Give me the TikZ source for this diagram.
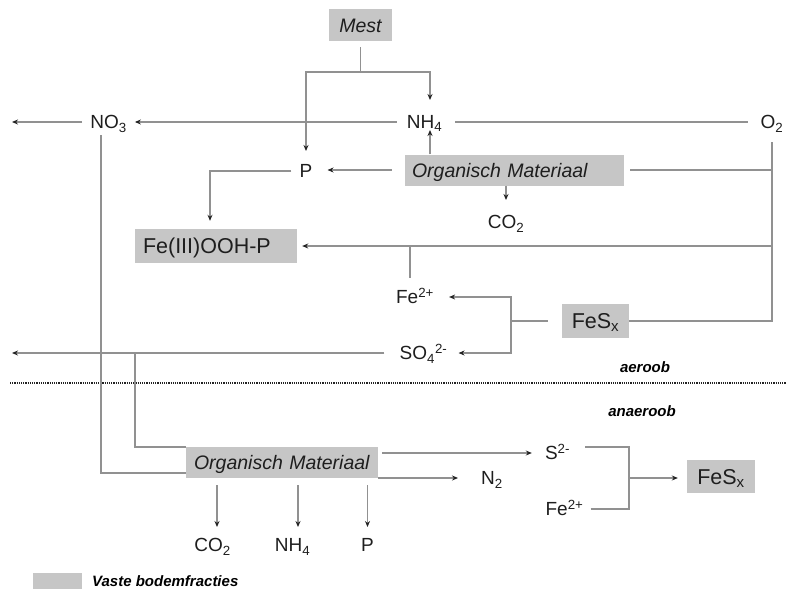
\documentclass[tikz,border=0pt]{standalone}
\usepackage{fontspec}
\setmainfont{Liberation Sans}
\usetikzlibrary{arrows.meta,calc}
\definecolor{boxgray}{RGB}{198,198,198}
\definecolor{linegray}{RGB}{145,145,145}
\definecolor{tipgray}{RGB}{35,35,35}
\definecolor{inkgray}{RGB}{30,30,30}
\begin{document}
\begin{tikzpicture}[x=1pt,y=-1pt,
  chem/.style={font=\fontsize{19}{19}\selectfont, text=inkgray, inner sep=0pt,
    text height=13.6pt, text depth=0pt},
  solid/.style={fill=boxgray, text=inkgray, inner ysep=0pt, inner xsep=0pt, text depth=0pt},
  omat/.style={solid, font=\fontsize{19.5}{19.5}\selectfont\itshape, text height=14pt,
    minimum height=31pt, align=left},
  big/.style={font=\fontsize{21.5}{21.5}\selectfont, text height=15.4pt},
  tag/.style={font=\fontsize{15}{15}\selectfont\bfseries\itshape, text=black, inner sep=0pt},
  ln/.style={draw=linegray, line width=1.7pt},
  arr/.style={ln, -{Stealth[length=6pt,width=5pt,color=tipgray]}},
  divider/.style={draw=tipgray, line width=1.6pt, dash pattern=on 1.1pt off 1.1pt},
]
\useasboundingbox (0,0) rectangle (786,589);

% ---- aerobic zone: labels and solid fractions
\node[solid, font=\fontsize{19.5}{19.5}\selectfont\itshape, text height=14pt,
  minimum width=63pt, minimum height=32pt] (mest) at (360.5,25) {Mest};
\node[chem] (nh4) at (424.5,122) {NH\textsubscript{4}};
\node[chem] (no3) at (108.5,122) {NO\textsubscript{3}};
\node[chem] (o2) at (772,122) {O\textsubscript{2}};
\node[chem] (p) at (306,171) {P};
\node[omat, text width=205pt, inner xsep=7pt] (om1) at (514.5,170) {Organisch Materiaal};
\node[chem] (co2a) at (506,222) {CO\textsubscript{2}};
\node[solid, big, minimum width=162pt, minimum height=34pt, text width=146pt,
  inner xsep=8pt, align=left] (fe3) at (216,246) {Fe(III)OOH-P};
\node[chem] (fe2a) at (415,297) {Fe\textsuperscript{2+}};
\node[chem] (so4) at (423.5,353) {SO\textsubscript{4}\textsuperscript{2-}};
\node[solid, big, minimum width=67pt, minimum height=34pt] (fesx1) at (595.5,321) {FeS\textsubscript{x}};
\node[tag] (aer) at (645,367) {aeroob};

% ---- anaerobic zone
\node[tag] (anaer) at (642,411) {anaeroob};
\node[omat, text width=176pt, inner xsep=8pt] (om2) at (282,462.5) {Organisch Materiaal};
\node[chem] (s2) at (557.5,453) {S\textsuperscript{2-}};
\node[chem] (n2) at (492,478) {N\textsubscript{2}};
\node[chem] (fe2b) at (564.5,509) {Fe\textsuperscript{2+}};
\node[solid, big, minimum width=68pt, minimum height=33pt] (fesx2) at (721,476.5) {FeS\textsubscript{x}};
\node[chem] (co2b) at (212.5,545) {CO\textsubscript{2}};
\node[chem] (nh4b) at (292.5,545) {NH\textsubscript{4}};
\node[chem] (pb) at (367.5,545) {P};

% ---- legend
\node[solid, minimum width=49pt, minimum height=16pt] (key) at (57,581) {};
\node[tag, anchor=west] (keytxt) at (92,581) {Vaste bodemfracties};

% ---- manure input
\coordinate (mj) at ($(mest.south)+(0,31)$);
\draw[ln, shorten <=6pt] (mest.south) -- (mj);
\draw[arr, shorten >=13pt] (mj) -| (p.north);
\draw[arr, shorten >=15pt] (mj) -| ($(nh4.north)+(5.5,0)$);

% ---- nitrogen
\coordinate (wedge1) at (12,122);
\draw[arr, shorten <=10pt, shorten >=8pt] (nh4.west) -- (no3.east);
\draw[arr, shorten <=8pt] (no3.west) -- (wedge1);
\draw[ln, shorten <=13pt, shorten >=12pt] (nh4.east) -- (o2.west);

% ---- oxygen supply
\draw[ln, shorten <=13pt] (o2.south) |- (fesx1.east);
\draw[ln, shorten <=6pt] (om1.east) -- (om1.east -| o2.south);
\draw[arr, shorten >=5pt] (o2.south |- fe3.east) -- (fe3.east);

% ---- organic matter (aerobic)
\draw[arr, shorten <=13pt, shorten >=15pt] (om1.west) -- (om1.west -| p.east);
\draw[arr, shorten >=1pt] ($(nh4.south |- om1.north)+(5.5,0)$) -- ($(nh4.south)+(5.5,0)$);
\draw[arr, shorten >=15pt] (om1.south -| co2a.north) -- (co2a.north);
\draw[arr, shorten <=8pt, shorten >=8pt] (p.west) -| ($(fe3.north)+(-6,0)$);

% ---- iron and sulphur (aerobic)
\draw[ln, shorten >=12pt] ($(fe2a.north |- fe3.east)+(-5,0)$) -- ($(fe2a.north)+(-5,0)$);
\coordinate (fork1) at (511,321);
\draw[ln, shorten <=14pt] (fesx1.west) -- (fork1);
\draw[arr, shorten >=15pt] (fork1) |- (fe2a.east);
\draw[arr, shorten >=11pt] (fork1) |- (so4.east);
\coordinate (wedge2) at (12,353);
\draw[arr, shorten <=15pt] (so4.west) -- (wedge2);

% ---- boundary between the zones
\coordinate (dl) at (10,383);
\coordinate (dr) at (786,383);
\draw[divider] (dl) -- (dr);

% ---- supply to organic matter (anaerobic)
\coordinate (so4j) at (135,353);
\draw[ln] (so4j) |- (om2.north west);
\draw[ln, shorten <=6pt] ($(no3.south)+(-7.5,0)$) |- ($(om2.south west)+(0,-5)$);

% ---- products (anaerobic)
\draw[arr, shorten <=4pt, shorten >=13pt] (om2.east |- s2.west) -- (s2.west);
\draw[arr, shorten >=23pt] (om2.east |- n2.west) -- (n2.west);
\coordinate (fork2) at (629,478);
\draw[ln, shorten <=15pt] ($(s2.east)+(0,-6)$) -| (fork2);
\draw[ln, shorten <=7pt] (fe2b.east) -| (fork2);
\draw[arr, shorten >=9pt] (fork2) -- (fork2 -| fesx2.west);
\draw[arr, shorten <=7pt, shorten >=11pt] ($(om2.south -| co2b.north)+(4.5,0)$) -- ($(co2b.north)+(4.5,0)$);
\draw[arr, shorten <=7pt, shorten >=11pt] ($(om2.south -| nh4b.north)+(5.5,0)$) -- ($(nh4b.north)+(5.5,0)$);
\draw[arr, shorten <=7pt, shorten >=11pt] (om2.south -| pb.north) -- (pb.north);
\end{tikzpicture}
\end{document}
